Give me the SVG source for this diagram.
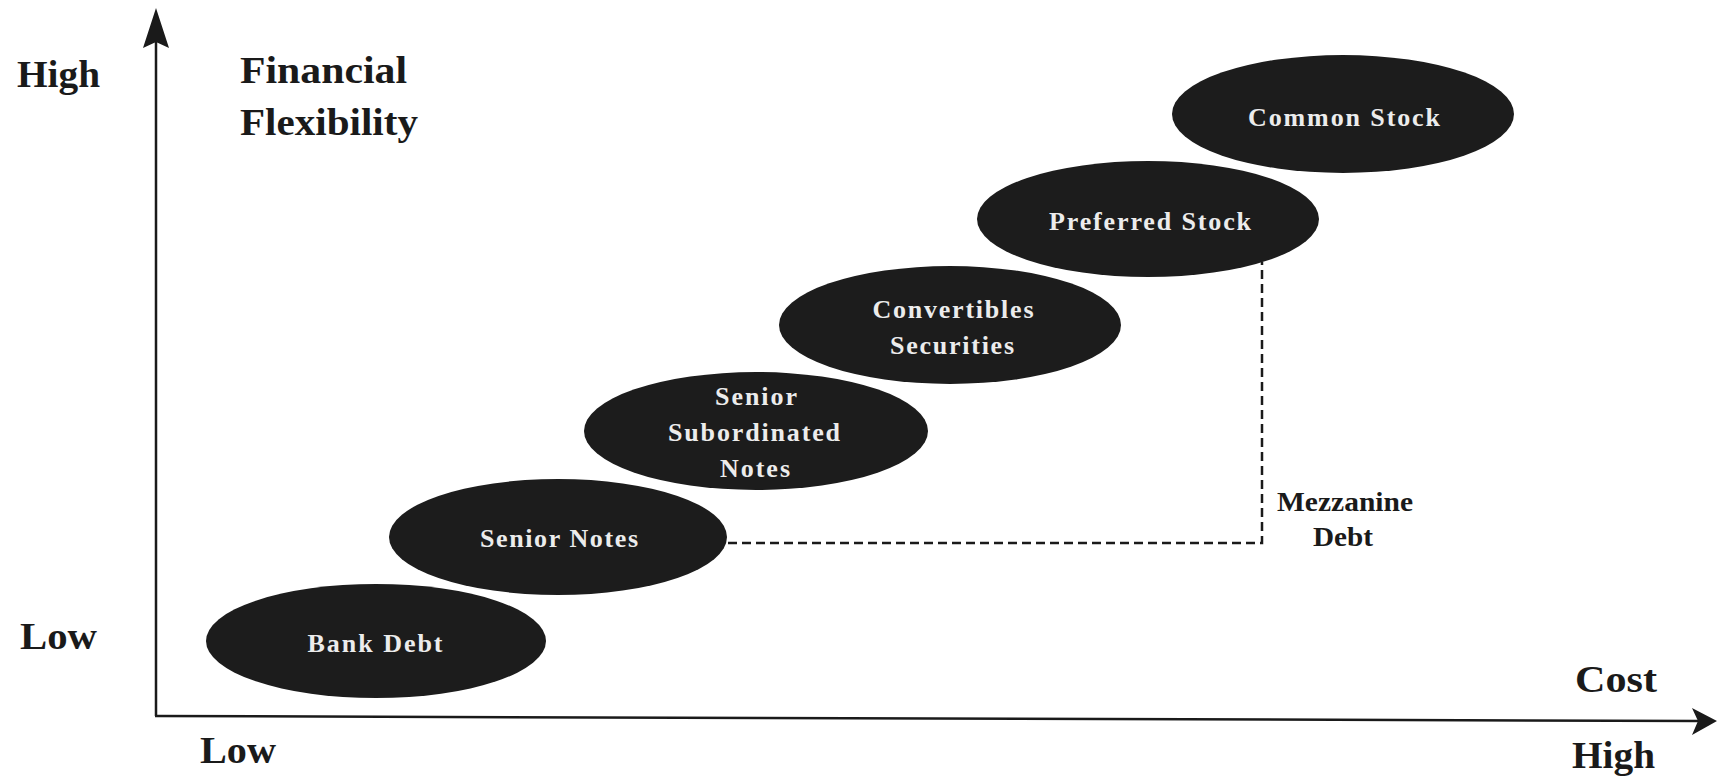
<svg xmlns="http://www.w3.org/2000/svg" width="1719" height="778" viewBox="0 0 1719 778">
<style>
.node{fill:#1c1c1c}
.nt{font-family:"Liberation Serif","Times New Roman",serif;font-weight:bold;font-size:26px;fill:#ececec;text-anchor:middle}
.lbl{font-family:"Liberation Serif","Times New Roman",serif;font-weight:bold;font-size:38px;fill:#1a1a1a}
.mz{font-family:"Liberation Serif","Times New Roman",serif;font-weight:bold;font-size:27px;fill:#1a1a1a;text-anchor:middle}
.axis{stroke:#1a1a1a;stroke-width:2.5;fill:none}
.dash{stroke:#1a1a1a;stroke-width:2.5;fill:none;stroke-dasharray:9 5}
</style>
<rect width="1719" height="778" fill="#ffffff"/>
<g id="connectors">
<line class="axis" x1="156" y1="716" x2="156" y2="30"/>
<polygon points="156,8 143,48 156,42 169,48" fill="#1a1a1a"/>
<line class="axis" x1="155" y1="716" x2="1700" y2="721"/>
<polygon points="1717,721 1692,708 1698,721 1692,735" fill="#1a1a1a"/>
<polyline class="dash" points="728,543 1262,543 1262,262"/>
</g>
<g id="bank-debt"><ellipse class="node" cx="376" cy="641" rx="170" ry="57"/><text class="nt" x="375" y="652" textLength="135" lengthAdjust="spacing">Bank Debt</text></g>
<g id="senior-notes"><ellipse class="node" cx="558" cy="537" rx="169" ry="58"/><text class="nt" x="559" y="547" textLength="158" lengthAdjust="spacing">Senior Notes</text></g>
<g id="senior-subordinated-notes"><ellipse class="node" cx="756" cy="431" rx="172" ry="59"/>
<text class="nt" x="756" y="405" textLength="82" lengthAdjust="spacing">Senior</text>
<text class="nt" x="754" y="441" textLength="172" lengthAdjust="spacing">Subordinated</text>
<text class="nt" x="755" y="477" textLength="70" lengthAdjust="spacing">Notes</text></g>
<g id="convertibles-securities"><ellipse class="node" cx="950" cy="325" rx="171" ry="59"/>
<text class="nt" x="953" y="318" textLength="161" lengthAdjust="spacing">Convertibles</text>
<text class="nt" x="952" y="354" textLength="124" lengthAdjust="spacing">Securities</text></g>
<g id="preferred-stock"><ellipse class="node" cx="1148" cy="219" rx="171" ry="58"/><text class="nt" x="1150" y="230" textLength="202" lengthAdjust="spacing">Preferred Stock</text></g>
<g id="common-stock"><ellipse class="node" cx="1343" cy="114" rx="171" ry="59"/><text class="nt" x="1344" y="126" textLength="192" lengthAdjust="spacing">Common Stock</text></g>
<g id="labels">
<text class="lbl" x="17" y="87" textLength="83" lengthAdjust="spacingAndGlyphs">High</text>
<text class="lbl" x="240" y="83" textLength="167" lengthAdjust="spacingAndGlyphs">Financial</text>
<text class="lbl" x="240" y="135" textLength="178" lengthAdjust="spacingAndGlyphs">Flexibility</text>
<text class="lbl" x="20" y="649" textLength="77" lengthAdjust="spacingAndGlyphs">Low</text>
<text class="lbl" x="200" y="763" textLength="76" lengthAdjust="spacingAndGlyphs">Low</text>
<text class="lbl" x="1575" y="692" textLength="82" lengthAdjust="spacingAndGlyphs">Cost</text>
<text class="lbl" x="1572" y="768" textLength="83" lengthAdjust="spacingAndGlyphs">High</text>
<text class="mz" x="1345" y="511" textLength="136" lengthAdjust="spacingAndGlyphs">Mezzanine</text>
<text class="mz" x="1343" y="546" textLength="60" lengthAdjust="spacingAndGlyphs">Debt</text>
</g>
</svg>
